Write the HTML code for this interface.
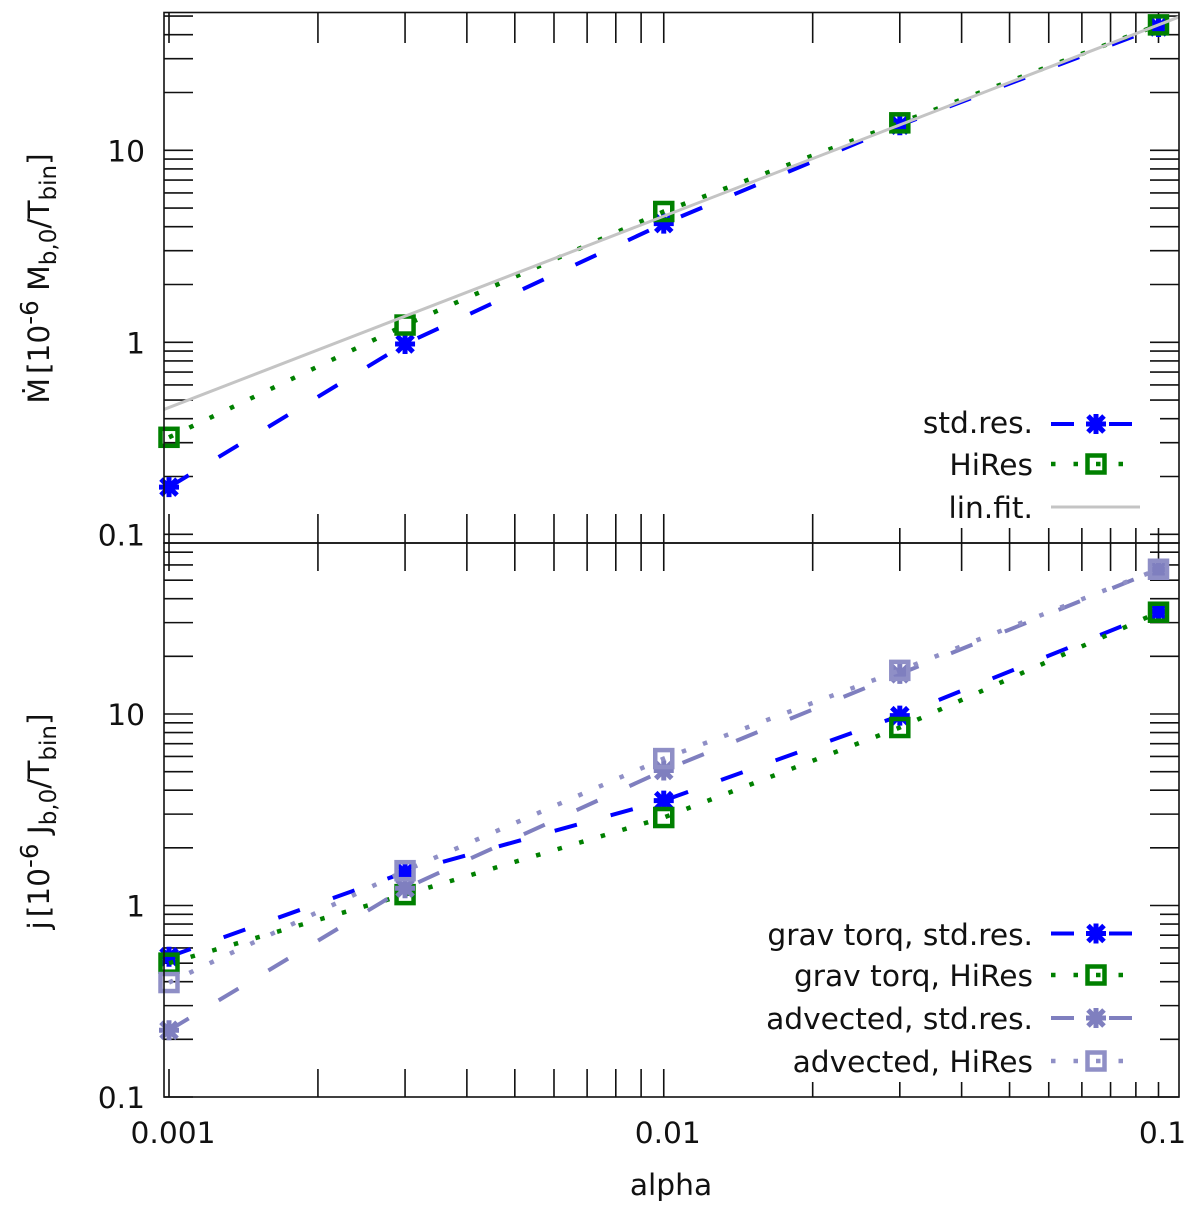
<!DOCTYPE html>
<html lang="en">
<head>
<meta charset="utf-8">
<title>Accretion rate and angular momentum vs alpha</title>
<style>
html,body{margin:0;padding:0;background:#fff;}
svg{display:block;}
text{font-family:"DejaVu Sans","Liberation Sans",sans-serif;fill:#111;font-size:29.7px;}
</style>
</head>
<body>
<svg id="chart" xmlns="http://www.w3.org/2000/svg" width="1200" height="1206" viewBox="0 0 1200 1206">
  <rect x="0" y="0" width="1200" height="1206" fill="#fff"/>
  <g id="ticks"></g>
  <g id="marks"></g>
  <g id="tick-labels"></g>

  <g>
    <rect x="885" y="410" width="275" height="118" fill="#fff"/>
    <text x="1033" y="433" text-anchor="end">std.res.</text>
    <text x="1033" y="475" text-anchor="end">HiRes</text>
    <text x="1033" y="518" text-anchor="end">lin.fit.</text>
    <line x1="1051" y1="424" x2="1140" y2="424" stroke="#0000ff" stroke-width="4" stroke-dasharray="23 35"/>
    <path d="M1086 424H1106M1096 414V434M1088 416L1104 432M1104 416L1088 432" stroke="#0000ff" stroke-width="5" fill="none"/>
    <line x1="1051" y1="464" x2="1140" y2="464" stroke="#008000" stroke-width="4.5" stroke-dasharray="4.5 18"/>
    <rect x="1087.5" y="455.5" width="17" height="17" stroke="#008000" stroke-width="4.5" fill="none"/>
    <line x1="1051" y1="507" x2="1140" y2="507" stroke="#c4c4c4" stroke-width="3"/>
  </g>

  <g>
    <rect x="755" y="910" width="405" height="172" fill="#fff"/>
    <text x="1033" y="945" text-anchor="end">grav torq, std.res.</text>
    <text x="1033" y="986" text-anchor="end">grav torq, HiRes</text>
    <text x="1033" y="1029" text-anchor="end">advected, std.res.</text>
    <text x="1033" y="1072" text-anchor="end">advected, HiRes</text>
    <line x1="1051" y1="933.5" x2="1140" y2="933.5" stroke="#0000ff" stroke-width="4" stroke-dasharray="23 35"/>
    <path d="M1086 933.5H1106M1096 923.5V943.5M1088 925.5L1104 941.5M1104 925.5L1088 941.5" stroke="#0000ff" stroke-width="5" fill="none"/>
    <line x1="1051" y1="975" x2="1140" y2="975" stroke="#008000" stroke-width="4.5" stroke-dasharray="4.5 18"/>
    <rect x="1087.5" y="966.5" width="17" height="17" stroke="#008000" stroke-width="4.5" fill="none"/>
    <line x1="1051" y1="1018" x2="1140" y2="1018" stroke="#7f7fbf" stroke-width="4" stroke-dasharray="23 35"/>
    <path d="M1086 1018H1106M1096 1008V1028M1088 1010L1104 1026M1104 1010L1088 1026" stroke="#7f7fbf" stroke-width="5" fill="none"/>
    <line x1="1051" y1="1061" x2="1140" y2="1061" stroke="#8f8fc6" stroke-width="4.5" stroke-dasharray="4.5 18"/>
    <rect x="1087.5" y="1052.5" width="17" height="17" stroke="#8f8fc6" stroke-width="4.5" fill="none"/>
  </g>

  <rect x="164" y="12.5" width="1015" height="530.5" fill="none" stroke="#111" stroke-width="1.6"/>
  <rect x="164" y="543" width="1015" height="554" fill="none" stroke="#111" stroke-width="1.6"/>

  <text transform="translate(49,278.5) rotate(-90)" text-anchor="middle">Ṁ<tspan dx="4">[10</tspan><tspan dy="-11" font-size="24.5">-6</tspan><tspan dy="11"> M</tspan><tspan dy="7" font-size="23">b,0</tspan><tspan dy="-7">/T</tspan><tspan dy="7" font-size="23">bin</tspan><tspan dy="-7">]</tspan></text>
  <text transform="translate(49,821.5) rotate(-90)" text-anchor="middle">j̇<tspan dx="4">[10</tspan><tspan dy="-11" font-size="24.5">-6</tspan><tspan dy="11"> J</tspan><tspan dy="7" font-size="23">b,0</tspan><tspan dy="-7">/T</tspan><tspan dy="7" font-size="23">bin</tspan><tspan dy="-7">]</tspan></text>
  <text x="671" y="1195" text-anchor="middle">alpha</text>
</svg>
<script>
// ---- data ----
var alphaValues = [0.001, 0.003, 0.01, 0.03, 0.1];
var stdResRate = [0.176, 0.98, 4.15, 13.5, 43.9];
var hiResRate = [0.32, 1.23, 4.8, 13.9, 45];
var fitAlpha = [0.000977, 0.11];
var fitRate = [0.447, 49.5];
var gravStd = [0.54, 1.49, 3.53, 9.8, 34.3];
var gravHiRes = [0.5, 1.14, 2.88, 8.5, 34];
var advStd = [0.223, 1.23, 5.07, 16.2, 56.8];
var advHiRes = [0.396, 1.52, 5.85, 16.9, 57];
var xTickDecades = [0.001, 0.01, 0.1];
var tickMultipliers = [1, 2, 3, 4, 5, 6, 7, 8, 9];
var topYDecades = [0.01, 0.1, 1, 10];
var bottomYDecades = [0.1, 1, 10];
var xTickLabels = ['0.001', '0.01', '0.1'];
var yTickLabels = ['0.1', '1', '10'];

// ---- axis functions ----
var NS = 'http://www.w3.org/2000/svg';
function xScale(a) { return 169 + (Math.log10(a) + 3) * 494.75; }
function topY(v) { return 342.3 - Math.log10(v) * 192; }
function bottomY(v) { return 905.5 - Math.log10(v) * 191.5; }
function mk(tag, parent) {
  var el = document.createElementNS(NS, tag);
  parent.appendChild(el);
  return el;
}
function pts(xs, ys, yf) {
  return xs.map(function (a, i) { return xScale(a).toFixed(2) + ',' + yf(ys[i]).toFixed(2); }).join(' ');
}

var ticksG = document.getElementById('ticks');
var marksG = document.getElementById('marks');
var labelsG = document.getElementById('tick-labels');

function tickLine(x1, y1, x2, y2, name) {
  var el = mk('line', ticksG);
  el.setAttribute('x1', x1);
  el.setAttribute('y1', y1);
  el.setAttribute('x2', x2);
  el.setAttribute('y2', y2);
  el.setAttribute('stroke', '#111');
  el.setAttribute('stroke-width', '1.6');
  
  
}

// x ticks on all panel edges
xTickDecades.forEach(function (d) {
  tickMultipliers.forEach(function (m) {
    var a = d * m;
    if (d === 0.1 && m > 1) return;
    var x = xScale(a);
    tickLine(x, 13, x, 43, 'top-panel-x-tick-top');
    tickLine(x, 514, x, 543, 'top-panel-x-tick-bottom');
    tickLine(x, 543, x, 571, 'bottom-panel-x-tick-top');
    tickLine(x, 1069, x, 1097, 'bottom-panel-x-tick-bottom');
  });
});

// y ticks
topYDecades.forEach(function (d) {
  tickMultipliers.forEach(function (m) {
    var y = topY(d * m);
    if (y < 13 || y > 543) return;
    tickLine(164, y, 193, y, 'top-panel-y-tick-left');
    tickLine(1150, y, 1179, y, 'top-panel-y-tick-right');
  });
});
bottomYDecades.forEach(function (d) {
  tickMultipliers.forEach(function (m) {
    var y = bottomY(d * m);
    if (y < 543 || y > 1097) return;
    tickLine(164, y, 193, y, 'bottom-panel-y-tick-left');
    tickLine(1150, y, 1179, y, 'bottom-panel-y-tick-right');
  });
});

// tick labels
yTickLabels.forEach(function (t) {
  var a = mk('text', labelsG);
  a.setAttribute('x', 145);
  a.setAttribute('y', topY(parseFloat(t)) + 11);
  a.setAttribute('text-anchor', 'end');
  
  
  a.textContent = t;
  var b = mk('text', labelsG);
  b.setAttribute('x', 145);
  b.setAttribute('y', bottomY(parseFloat(t)) + 11);
  b.setAttribute('text-anchor', 'end');
  
  
  b.textContent = t;
});
xTickLabels.forEach(function (t) {
  var el = mk('text', labelsG);
  el.setAttribute('x', xScale(parseFloat(t)) + 4);
  el.setAttribute('y', 1143);
  el.setAttribute('text-anchor', 'middle');
  
  
  el.textContent = t;
});

// series
function drawLine(ys, yf, color, width, dash, name) {
  var el = mk('polyline', marksG);
  el.setAttribute('points', pts(alphaValues, ys, yf));
  el.setAttribute('fill', 'none');
  el.setAttribute('stroke', color);
  el.setAttribute('stroke-width', width);
  el.setAttribute('stroke-dasharray', dash);
  
  
}
function drawStars(ys, yf, color, name) {
  alphaValues.forEach(function (a, i) {
    var x = xScale(a), y = yf(ys[i]);
    var el = mk('path', marksG);
    el.setAttribute('d', 'M' + (x - 10) + ' ' + y + 'H' + (x + 10) +
      'M' + x + ' ' + (y - 10) + 'V' + (y + 10) +
      'M' + (x - 8) + ' ' + (y - 8) + 'L' + (x + 8) + ' ' + (y + 8) +
      'M' + (x + 8) + ' ' + (y - 8) + 'L' + (x - 8) + ' ' + (y + 8));
    el.setAttribute('fill', 'none');
    el.setAttribute('stroke', color);
    el.setAttribute('stroke-width', '5');
    
    
  });
}
function drawSquares(ys, yf, color, name) {
  alphaValues.forEach(function (a, i) {
    var x = xScale(a), y = yf(ys[i]);
    var el = mk('rect', marksG);
    el.setAttribute('x', x - 8.5);
    el.setAttribute('y', y - 8.5);
    el.setAttribute('width', 17);
    el.setAttribute('height', 17);
    el.setAttribute('fill', 'none');
    el.setAttribute('stroke', color);
    el.setAttribute('stroke-width', '4.5');
    
    
  });
}

var DASH = '23 35', DOT = '4.5 18';
var BLUE = '#0000ff', GREEN = '#008000', PURPLE = '#7f7fbf', PURPLE2 = '#8f8fc6';

// top panel
drawLine(stdResRate, topY, BLUE, 4, DASH, 'std-res-line');
drawStars(stdResRate, topY, BLUE, 'std-res-point');
drawLine(hiResRate, topY, GREEN, 4.5, DOT, 'hires-line');
drawSquares(hiResRate, topY, GREEN, 'hires-point');
var fit = mk('polyline', marksG);
fit.setAttribute('points', pts(fitAlpha, fitRate, topY));
fit.setAttribute('fill', 'none');
fit.setAttribute('stroke', '#c4c4c4');
fit.setAttribute('stroke-width', '3');



// bottom panel
drawLine(gravStd, bottomY, BLUE, 4, DASH, 'grav-std-line');
drawStars(gravStd, bottomY, BLUE, 'grav-std-point');
drawLine(gravHiRes, bottomY, GREEN, 4.5, DOT, 'grav-hires-line');
drawSquares(gravHiRes, bottomY, GREEN, 'grav-hires-point');
drawLine(advStd, bottomY, PURPLE, 4, DASH, 'adv-std-line');
drawStars(advStd, bottomY, PURPLE, 'adv-std-point');
drawLine(advHiRes, bottomY, PURPLE2, 4.5, DOT, 'adv-hires-line');
drawSquares(advHiRes, bottomY, PURPLE2, 'adv-hires-point');
</script>
</body>
</html>
